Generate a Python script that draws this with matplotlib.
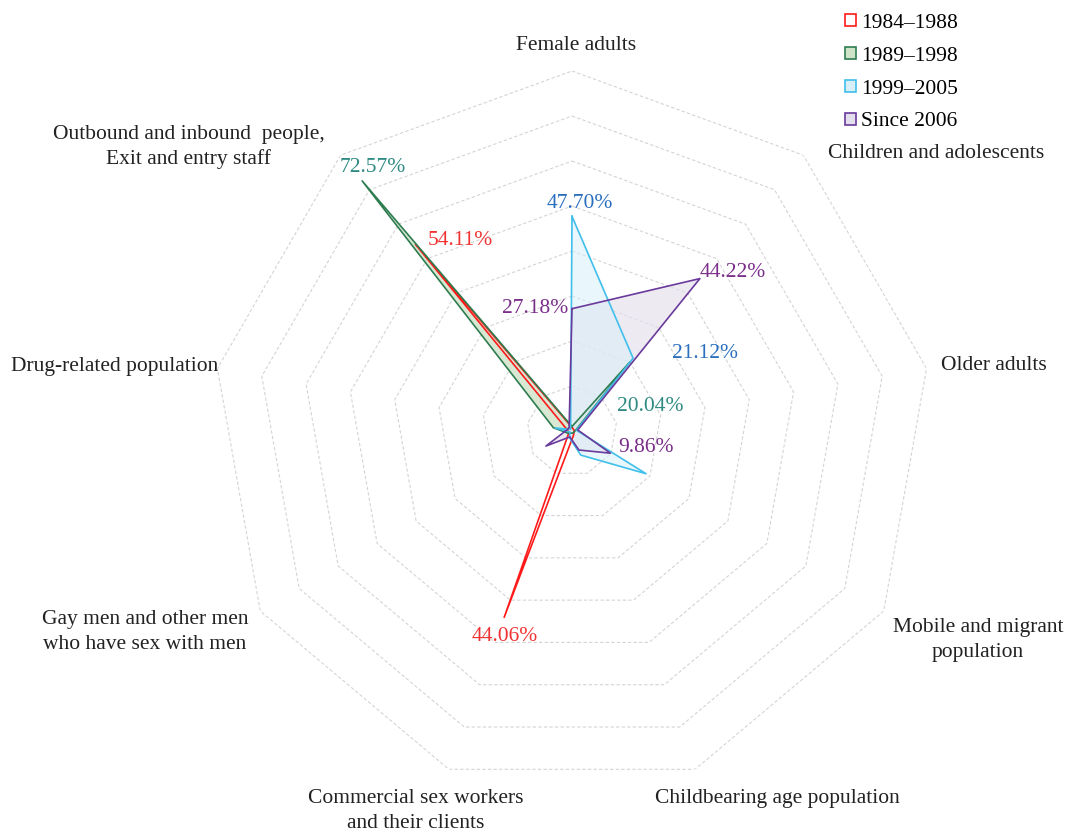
import numpy as np
import matplotlib
matplotlib.use("Agg")
import matplotlib.pyplot as plt
from matplotlib.patches import Patch

plt.rcParams['font.family'] = ['Liberation Serif', 'DejaVu Serif']

categories = ["Female adults", "Children and adolescents", "Older adults",
              "Mobile and migrant\npopulation", "Childbearing age population",
              "Commercial sex workers\nand their clients",
              "Gay men and other men\nwho have sex with men",
              "Drug-related population",
              "Outbound and inbound  people,\nExit and entry staff"]

periods = ["1984\u20131988", "1989\u20131998", "1999\u20132005", "Since 2006"]
v1984 = [0.8, 0.5, 0.5, 0.5, 1.0, 44.06, 0.8, 1.0, 54.11]
v1989 = [1.0, 20.04, 0.8, 0.5, 0.5, 0.5, 1.0, 4.2, 72.57]
v1999 = [47.70, 21.12, 1.0, 19.0, 5.7, 1.6, 0.5, 3.8, 0.5]
v2006 = [27.18, 44.22, 1.3, 9.86, 4.5, 1.4, 6.7, 1.2, 1.0]
series = [v1984, v1989, v1999, v2006]

edge_colors = ["#ff1a1a", "#2e7d50", "#3fbfea", "#6a3a9c"]
fill_colors = ["none", "#cfe3c8", "#d8eff8", "#e4dfec"]
fill_alpha = [0, 0.8, 0.55, 0.65]
label_colors = ["#f03232", "#2e8a82", "#2a6fbf", "#7a2e8a"]

# labelled values: (series index, category index)
labelled = [(0, 8), (0, 5), (1, 8), (1, 1), (2, 0), (2, 1), (3, 0), (3, 1), (3, 3)]
label_offsets = {
    (1, 8): (11, 13, 'center'),
    (0, 8): (12, 4, 'left'),
    (2, 0): (8, 13, 'center'),
    (3, 0): (-4, 0, 'right'),
    (3, 1): (0, 6, 'left'),
    (2, 1): (39, 5, 'left'),
    (1, 1): (20, -45, 'center'),
    (3, 3): (8, 6, 'left'),
    (0, 5): (1, -19, 'center'),
}

W, H = 1067, 832
fig = plt.figure(figsize=(W / 100, H / 100), dpi=100)
cx, cy, R = 572, 431, 360
ax = fig.add_axes([(cx - R) / W, (H - cy - R) / H, 2 * R / W, 2 * R / H],
                  projection='polar')
ax.set_theta_zero_location('N')
ax.set_theta_direction(-1)
ax.set_ylim(0, 80)
ax.grid(False)
ax.set_xticks([])
ax.set_yticks([])
ax.spines['polar'].set_visible(False)
ax.patch.set_visible(False)

n = len(categories)
theta = np.arange(n) * 2 * np.pi / n
theta_c = np.append(theta, theta[0])

for r in range(10, 81, 10):
    ax.plot(theta_c, [r] * (n + 1), color='#d4d4d4', lw=0.8,
            ls=(0, (3, 2)), zorder=1)

order = [1, 3, 2, 0]
for i in order:
    vals = np.append(series[i], series[i][0])
    if fill_colors[i] != "none":
        ax.fill(theta_c, vals, color=fill_colors[i], alpha=fill_alpha[i], zorder=2, lw=0)
    ax.plot(theta_c, vals, color=edge_colors[i], lw=1.2, zorder=3 + i)

for (si, ci) in labelled:
    dx, dy, ha = label_offsets[(si, ci)]
    ax.annotate(f"{series[si][ci]:.2f}%", (theta[ci], series[si][ci]),
                xytext=(dx, dy), textcoords='offset pixels', ha=ha, va='center',
                fontsize=15.5, color=label_colors[si], zorder=10)

cat_pos = [(576, 45), (936, 154), (994, 366), (978, 640), (777, 798),
           (416, 811), (145, 632), (115, 366), (189, 147)]
for name, (px, py) in zip(categories, cat_pos):
    fig.text(px / W, 1 - py / H, name, ha='center', va='center',
             fontsize=15.5, color='#222222', linespacing=1.36)

handles = [Patch(facecolor=('white' if fill_colors[i] == 'none' else fill_colors[i]),
                 edgecolor=edge_colors[i], lw=1.2) for i in range(4)]
fig.legend(handles, periods, loc='upper left', bbox_to_anchor=(845 / W, 1 - 14 / H),
           frameon=False, fontsize=15.5, handlelength=0.5, handleheight=0.5,
           handletextpad=0.25, labelspacing=0.64, borderaxespad=0, borderpad=0)

fig.savefig("out.png", dpi=100, facecolor='white')
